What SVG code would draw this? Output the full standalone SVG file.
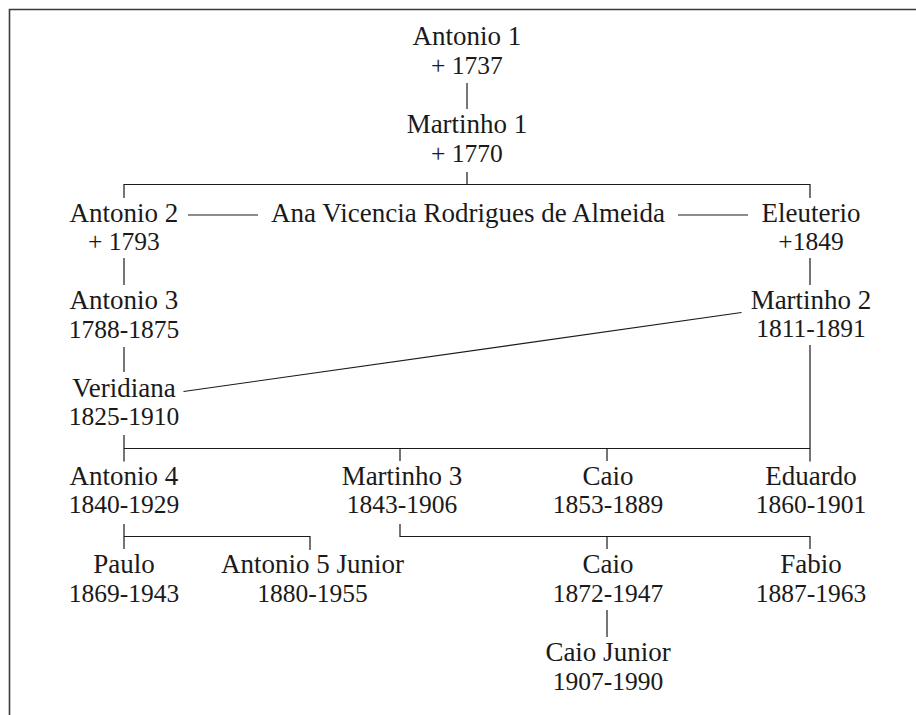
<svg xmlns="http://www.w3.org/2000/svg" width="916" height="715" viewBox="0 0 916 715">
<style>
text{font-family:"Liberation Serif","Times New Roman",serif;font-size:27px;fill:#1a1a1a;text-anchor:middle}
text.y{font-size:25.5px}
.c{stroke:#1a1a1a;stroke-width:1.2;fill:none}
.frame{stroke:#3a3a3a;stroke-width:1.6;fill:none}
</style>
<rect width="916" height="715" fill="#ffffff"/>
<path class="frame" d="M9.5,715 V9.5 H916"/>
<g id="connectors">
<path class="c" d="M467,83 V109"/>
<path class="c" d="M467,172 V184.5 M124,198 V184.5 H810 V198"/>
<path class="c" d="M188,215 H258 M678,215 H748"/>
<path class="c" d="M124,258 V285 M810,258 V285"/>
<path class="c" d="M124,347 V372"/>
<path class="c" d="M183.5,391.5 L741.5,312.5"/>
<path class="c" d="M124,435 V461.5 M810,345 V461.5 M124,448.5 H810 M400,448.5 V461 M607,448.5 V461"/>
<path class="c" d="M124,524 V549 M124,536.5 H310 V550"/>
<path class="c" d="M400,524 V536.5 H810 V549 M607,536.5 V549"/>
<path class="c" d="M607,610 V637"/>
</g>
<g id="antonio1"><text x="467" y="45">Antonio 1</text><text class="y" x="467" y="74">+ 1737</text></g>
<g id="martinho1"><text x="467" y="133">Martinho 1</text><text class="y" x="467" y="162">+ 1770</text></g>
<g id="antonio2"><text x="124" y="221.5">Antonio 2</text><text class="y" x="124" y="250">+ 1793</text></g>
<g id="ana"><text x="468" y="221.5">Ana Vicencia Rodrigues de Almeida</text></g>
<g id="eleuterio"><text x="811" y="221.5">Eleuterio</text><text class="y" x="811" y="250">+1849</text></g>
<g id="antonio3"><text x="124" y="309">Antonio 3</text><text class="y" x="124" y="338">1788-1875</text></g>
<g id="martinho2"><text x="811" y="308.5">Martinho 2</text><text class="y" x="811" y="337">1811-1891</text></g>
<g id="veridiana"><text x="124" y="396.5">Veridiana</text><text class="y" x="124" y="425">1825-1910</text></g>
<g id="antonio4"><text x="124" y="484.5">Antonio 4</text><text class="y" x="124" y="513">1840-1929</text></g>
<g id="martinho3"><text x="402" y="484.5">Martinho 3</text><text class="y" x="402" y="513">1843-1906</text></g>
<g id="caio1"><text x="608" y="484.5">Caio</text><text class="y" x="608" y="513">1853-1889</text></g>
<g id="eduardo"><text x="811" y="484.5">Eduardo</text><text class="y" x="811" y="513">1860-1901</text></g>
<g id="paulo"><text x="124" y="572.5">Paulo</text><text class="y" x="124" y="601.5">1869-1943</text></g>
<g id="antonio5"><text x="312.5" y="572.5">Antonio 5 Junior</text><text class="y" x="312.5" y="601.5">1880-1955</text></g>
<g id="caio2"><text x="608" y="572.5">Caio</text><text class="y" x="608" y="601.5">1872-1947</text></g>
<g id="fabio"><text x="811" y="572.5">Fabio</text><text class="y" x="811" y="601.5">1887-1963</text></g>
<g id="caiojunior"><text x="608" y="660.5">Caio Junior</text><text class="y" x="608" y="690">1907-1990</text></g>
</svg>
